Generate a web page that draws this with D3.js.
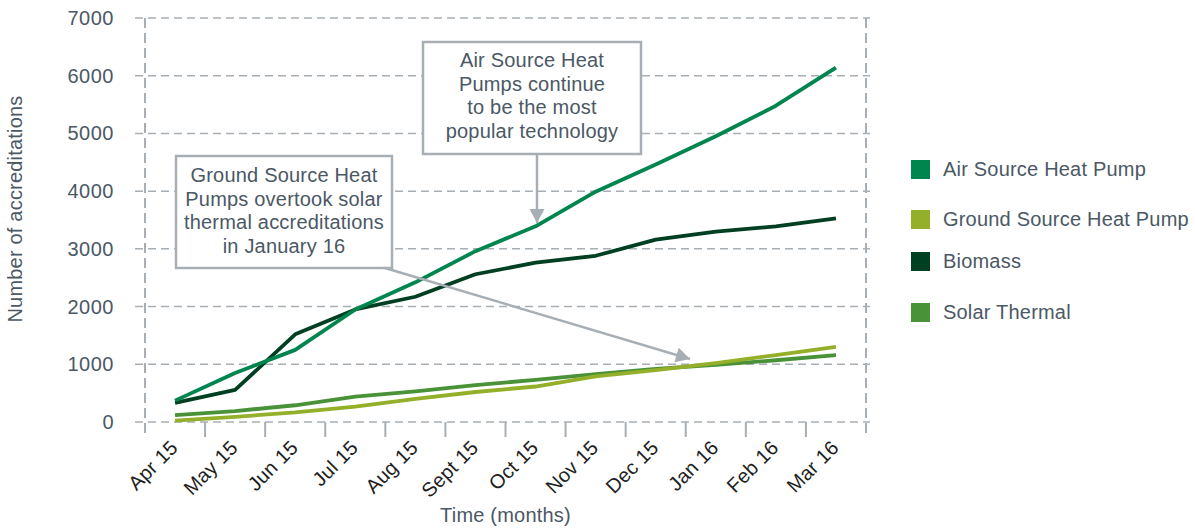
<!DOCTYPE html>
<html>
<head>
<meta charset="utf-8">
<script src="https://cdn.jsdelivr.net/npm/d3@7"></script>
<style>
  html, body { margin: 0; padding: 0; background: #fff; }
  svg { display: block; font-family: "Liberation Sans", Arial, Helvetica, sans-serif; }
  text { fill: #4b5865; }
</style>
</head>
<body>
<svg id="chart" width="1195" height="528"></svg>
<script>
// Monthly cumulative accreditations, April 2015 – March 2016
const months = ["Apr 15", "May 15", "Jun 15", "Jul 15", "Aug 15", "Sept 15",
                "Oct 15", "Nov 15", "Dec 15", "Jan 16", "Feb 16", "Mar 16"];
const airSource    = [370, 850, 1250, 1950, 2420, 2960, 3390, 3990, 4460, 4950, 5480, 6140];
const groundSource = [25, 90, 165, 265, 400, 520, 615, 790, 900, 1020, 1160, 1300];
const biomass      = [330, 555, 1520, 1950, 2170, 2560, 2760, 2880, 3160, 3300, 3390, 3530];
const solarThermal = [120, 190, 290, 440, 530, 640, 730, 830, 920, 990, 1070, 1160];
const yTicks = [0, 1000, 2000, 3000, 4000, 5000, 6000, 7000];

const seriesNames  = ["Air Source Heat Pump", "Ground Source Heat Pump", "Biomass", "Solar Thermal"];
const seriesColors = ["#00854f", "#94b02a", "#003f22", "#4a9238"];
const seriesValues = [airSource, groundSource, biomass, solarThermal];

const svg = d3.select("#chart");
const plotL = 145, plotR = 866, plotT = 18, plotB = 422;
const grid = "#a7aeb4";
const fontSize = "20px", spacing = "0.2px";

const x = d3.scaleBand().domain(months).range([plotL, plotR]);
const y = d3.scaleLinear().domain([0, 7000]).range([plotB, plotT]);

// horizontal gridlines (dashed), extending slightly past the frame as ticks
svg.append("g").selectAll("line").data(yTicks).join("line")
  .attr("x1", plotL - 10).attr("x2", plotR + 4)
  .attr("y1", d => y(d)).attr("y2", d => y(d))
  .attr("stroke", grid).attr("stroke-width", 1.5).attr("stroke-dasharray", "8,5");

// vertical frame lines (dashed)
svg.append("g").selectAll("line").data([plotL, plotR]).join("line")
  .attr("x1", d => d).attr("x2", d => d)
  .attr("y1", plotT).attr("y2", plotB + 15)
  .attr("stroke", grid).attr("stroke-width", 2).attr("stroke-dasharray", "10,5");

// x-axis ticks at band boundaries
const bounds = months.slice(1).map(m => x(m));
svg.append("g").selectAll("line").data(bounds).join("line")
  .attr("x1", d => d).attr("x2", d => d)
  .attr("y1", plotB).attr("y2", plotB + 15)
  .attr("stroke", grid).attr("stroke-width", 2);

// y tick labels
svg.append("g").selectAll("text").data(yTicks).join("text")
  .attr("x", 114).attr("y", d => y(d) + 7)
  .attr("text-anchor", "end")
  .style("font-size", fontSize).style("letter-spacing", "0.5px")
  .text(d => d);

// x tick labels, rotated
svg.append("g").selectAll("text").data(months).join("text")
  .attr("text-anchor", "end")
  .attr("transform", d => `translate(${x(d) + x.bandwidth() / 2 + 4},${plotB + 27}) rotate(-45)`)
  .style("font-size", fontSize).style("letter-spacing", spacing)
  .style("fill", "#1e1e1e")
  .text(d => d);

// axis titles
svg.append("text")
  .attr("transform", `translate(22,209) rotate(-90)`)
  .attr("text-anchor", "middle")
  .style("font-size", fontSize).style("letter-spacing", spacing)
  .text("Number of accreditations");
svg.append("text")
  .attr("x", (plotL + plotR) / 2).attr("y", 522)
  .attr("text-anchor", "middle")
  .style("font-size", fontSize).style("letter-spacing", spacing)
  .text("Time (months)");

// series lines
const line = d3.line()
  .x((d, i) => x(months[i]) + x.bandwidth() / 2)
  .y(d => y(d));
const drawOrder = [3, 1, 2, 0];
svg.append("g").selectAll("path").data(drawOrder).join("path")
  .attr("d", i => line(seriesValues[i]))
  .attr("fill", "none")
  .attr("stroke", i => seriesColors[i])
  .attr("stroke-width", 3.8)
  .attr("stroke-linejoin", "round");

// annotations
const annGrey = "#a7aeb4";
function arrowHead(g, x1, y1, x2, y2, len, half) {
  const a = Math.atan2(y2 - y1, x2 - x1);
  const bx = x2 - len * Math.cos(a), by = y2 - len * Math.sin(a);
  const px = -Math.sin(a) * half, py = Math.cos(a) * half;
  g.append("path")
    .attr("d", `M${x2},${y2}L${bx + px},${by + py}L${bx - px},${by - py}Z`)
    .attr("fill", annGrey);
}
function callout(box, lines, cx, firstBase, from, to) {
  const g = svg.append("g");
  g.append("line")
    .attr("x1", from[0]).attr("y1", from[1])
    .attr("x2", to[0]).attr("y2", to[1])
    .attr("stroke", annGrey).attr("stroke-width", 2.5);
  arrowHead(g, from[0], from[1], to[0], to[1], 14, 7.5);
  g.append("rect")
    .attr("x", box[0]).attr("y", box[1]).attr("width", box[2]).attr("height", box[3])
    .attr("fill", "#fff").attr("stroke", annGrey).attr("stroke-width", 2.5);
  g.selectAll("text.l").data(lines).join("text")
    .attr("x", cx).attr("y", (d, i) => firstBase + i * 23.7)
    .attr("text-anchor", "middle")
    .style("font-size", fontSize).style("letter-spacing", spacing)
    .text(d => d);
}
callout([423, 42, 218, 112],
  ["Air Source Heat", "Pumps continue", "to be the most", "popular technology"],
  532, 67, [537, 154], [537, 223]);
callout([176, 156, 216, 112],
  ["Ground Source Heat", "Pumps overtook solar", "thermal accreditations", "in January 16"],
  284, 182, [385, 268], [690, 359]);

// legend
const legendY = [160, 210, 252, 303];
const lg = svg.append("g");
lg.selectAll("rect").data(seriesNames).join("rect")
  .attr("x", 911).attr("y", (d, i) => legendY[i])
  .attr("width", 19).attr("height", 19)
  .attr("fill", (d, i) => seriesColors[i]);
lg.selectAll("text").data(seriesNames).join("text")
  .attr("x", 943).attr("y", (d, i) => legendY[i] + 16)
  .style("font-size", fontSize).style("letter-spacing", spacing)
  .text(d => d);
</script>
</body>
</html>
